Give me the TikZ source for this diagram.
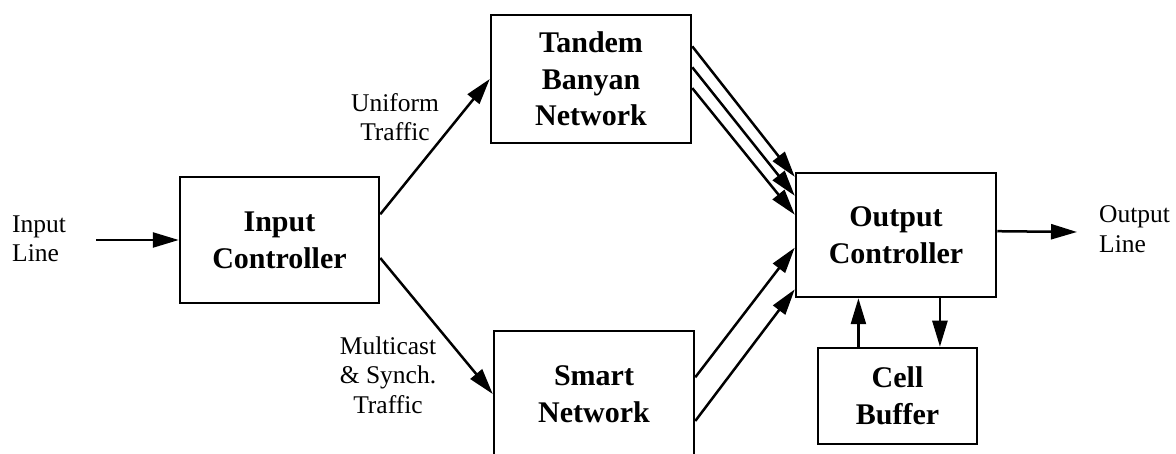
\documentclass[tikz,border=0pt]{standalone}
\usepackage{fontspec}
\setmainfont{Liberation Serif}
\usetikzlibrary{arrows.meta,calc}
\begin{document}
\begin{tikzpicture}[x=1pt,y=-1pt,
  blk/.style={draw, line width=2.5pt, minimum width=200pt, minimum height=126pt, inner sep=0pt, align=center, font=\fontsize{30}{36.7}\selectfont\bfseries},
  lbl/.style={inner sep=0pt, font=\fontsize{25.5}{29.5}\selectfont},
  arr/.style={line width=2.5pt, -{Triangle[length=26pt,width=15pt]}}]
\useasboundingbox (0,0) rectangle (1176,454);
\clip (0,0) rectangle (1176,454);
\node[blk, minimum width=199pt] (ic) at (279.5,240) {Input\\Controller};
\node[blk, minimum height=128pt] (tb) at (591,79) {Tandem\\Banyan\\Network};
\node[blk] (sn) at (594,394) {Smart\\Network};
\node[blk, minimum height=124pt] (oc) at (896,235) {Output\\Controller};
\node[blk, minimum width=159pt, minimum height=96pt] (cb) at (897.5,396) {Cell\\Buffer};
\node[lbl, anchor=west, align=left] (inl) at (12,239) {Input\\Line};
\node[lbl, align=center] (uni) at (395,117) {Uniform\\Traffic};
\node[lbl, align=center] (mul) at (388,375) {Multicast\\\& Synch.\\Traffic};
\node[lbl, anchor=west, align=left] (outl) at (1099,229) {Output\\Line};
\coordinate (inS) at (96,240);
\coordinate (outE) at (1077,232);
\draw[arr] (inS) -- (ic.west);
\draw[arr] ($(oc.north east)!0.47!(oc.south east)$) -- (outE);
\draw[arr] ($(ic.north east)!0.30!(ic.south east)$) -- (tb.west);
\draw[arr] ($(ic.north east)!0.64!(ic.south east)$) -- (sn.west);
\foreach \a/\b in {0.25/0.04,0.41/0.19,0.57/0.34}
  \draw[arr] ($(tb.north east)!\a!(tb.south east)$) -- ($(oc.north west)!\b!(oc.south west)$);
\foreach \a/\b in {0.37/0.60,0.71/0.93}
  \draw[arr] ($(sn.north east)!\a!(sn.south east)$) -- ($(oc.north west)!\b!(oc.south west)$);
\draw[arr] ($(cb.north west)!0.258!(cb.north east)$) coordinate (cu) -- (cu |- oc.south);
\draw[arr] ($(oc.south west)!0.717!(oc.south east)$) coordinate (cd) -- (cd |- cb.north);
\end{tikzpicture}
\end{document}
